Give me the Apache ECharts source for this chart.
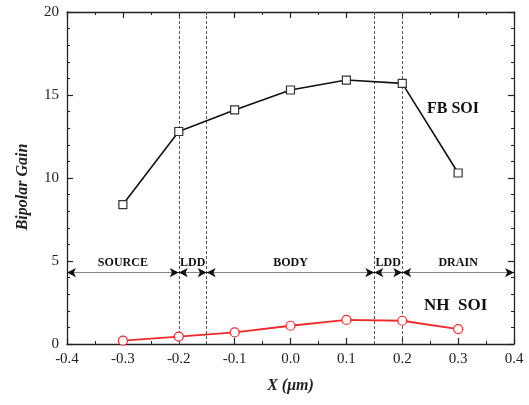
<!DOCTYPE html>
<html><head><meta charset="utf-8">
<script src="https://cdn.jsdelivr.net/npm/echarts@6/dist/echarts.min.js"></script>
<style>html,body{margin:0;padding:0;background:#fff}#c{width:529px;height:405px}</style>
</head><body><div id="c"></div>
<script>
var xValues = [-0.3, -0.2, -0.1, 0.0, 0.1, 0.2, 0.3];
var fbSOI = [8.4, 12.8, 14.1, 15.3, 15.9, 15.7, 10.3];
var nhSOI = [0.2, 0.45, 0.7, 1.1, 1.45, 1.4, 0.9];
var boundaries = [-0.2, -0.15, 0.15, 0.2];
var regionNames = ['SOURCE', 'LDD', 'BODY', 'LDD', 'DRAIN'];
var regionEdges = [-0.4, -0.2, -0.15, 0.15, 0.2, 0.4];
var regionY = 4.3;

var serif = '"Liberation Serif","Times New Roman",serif';
var chart = echarts.init(document.getElementById('c'));

var regionLines = regionNames.map(function (n, i) {
  return [{coord: [regionEdges[i], regionY], name: n}, {coord: [regionEdges[i + 1], regionY]}];
});
var arrowHeads = [];
regionNames.forEach(function (n, i) {
  var a = regionEdges[i], b = regionEdges[i + 1];
  arrowHeads.push([{coord: [a + 0.008, regionY]}, {coord: [a, regionY]}]);
  arrowHeads.push([{coord: [b - 0.008, regionY]}, {coord: [b, regionY]}]);
});
var vLines = boundaries.map(function (b) { return [{coord: [b, 0]}, {coord: [b, 20]}]; });

function axisCommon(show) {
  return {
    axisLine: {show: true, onZero: false, lineStyle: {color: '#222', width: 1.3}},
    axisTick: {show: true, inside: true, length: 6, lineStyle: {color: '#222', width: 1.2}},
    minorTick: {show: true, splitNumber: 0, length: 3, lineStyle: {color: '#222', width: 1}},
    splitLine: {show: false},
    axisLabel: {show: show, color: '#222', fontFamily: serif, fontSize: 15, margin: 8}
  };
}

var xb = axisCommon(true);
xb.type = 'value'; xb.min = -0.4; xb.max = 0.4; xb.interval = 0.1; xb.position = 'bottom';
xb.minorTick.splitNumber = 2;
xb.axisLabel.formatter = function (v) { return v.toFixed(1); };
xb.name = 'X (\u03bcm)'; xb.nameLocation = 'middle'; xb.nameGap = 34;
xb.nameTextStyle = {fontFamily: serif, fontWeight: 'bold', fontStyle: 'italic', fontSize: 16, color: '#222'};
var xt = axisCommon(false);
xt.type = 'value'; xt.min = -0.4; xt.max = 0.4; xt.interval = 0.1; xt.position = 'top';
xt.minorTick.splitNumber = 2;

var yl = axisCommon(true);
yl.type = 'value'; yl.min = 0; yl.max = 20; yl.interval = 5; yl.position = 'left';
yl.minorTick.splitNumber = 5;
yl.name = 'Bipolar Gain'; yl.nameLocation = 'middle'; yl.nameGap = 36;
yl.nameTextStyle = {fontFamily: serif, fontWeight: 'bold', fontStyle: 'italic', fontSize: 16, color: '#222', padding: [0, 0, 0, -18]};
var yr = axisCommon(false);
yr.type = 'value'; yr.min = 0; yr.max = 20; yr.interval = 5; yr.position = 'right';
yr.minorTick.splitNumber = 5;

chart.setOption({
  animation: false,
  backgroundColor: '#fff',
  grid: {left: 67, right: 15, top: 12, bottom: 61},
  xAxis: [xb, xt],
  yAxis: [yl, yr],
  series: [
    {
      type: 'line', name: 'FB SOI', data: xValues.map(function (x, i) { return [x, fbSOI[i]]; }),
      symbol: 'rect', symbolSize: 8, showAllSymbol: true,
      lineStyle: {color: '#111', width: 1.6},
      itemStyle: {color: '#fff', borderColor: '#333', borderWidth: 1.2},
      z: 5,
      markLine: {
        silent: true, symbol: ['none', 'none'], animation: false,
        lineStyle: {color: '#555', type: [3, 2], width: 1},
        label: {show: false},
        data: vLines
      }
    },
    {
      type: 'line', name: 'NH SOI', data: xValues.map(function (x, i) { return [x, nhSOI[i]]; }),
      symbol: 'circle', symbolSize: 9, showAllSymbol: true,
      lineStyle: {color: '#ee2a2a', width: 1.8},
      itemStyle: {color: '#fff', borderColor: '#ee2a2a', borderWidth: 1.2},
      z: 5,
      markLine: {
        silent: true, symbol: ['none', 'none'], animation: false,
        lineStyle: {color: '#888', type: 'solid', width: 1},
        label: {show: true, position: 'middle', formatter: '{b}', fontFamily: serif, fontWeight: 'bold',
                fontSize: 12, color: '#111', distance: 4},
        emphasis: {disabled: true},
        data: regionLines
      }
    },
    {
      type: 'line', name: 'arrows', data: [], silent: true,
      markLine: {
        silent: true, symbol: ['none', 'arrow'], symbolSize: [7, 9], animation: false,
        lineStyle: {color: '#111', type: 'solid', width: 1},
        label: {show: false},
        emphasis: {disabled: true},
        data: arrowHeads
      }
    }
  ],
  graphic: [
    {type: 'text', left: 427, top: 101, style: {text: 'FB SOI', font: 'bold 16px ' + serif, fill: '#111'}},
    {type: 'text', left: 424, top: 297, style: {text: 'NH  SOI', font: 'bold 17px ' + serif, fill: '#111'}}
  ]
});
</script></body></html>
